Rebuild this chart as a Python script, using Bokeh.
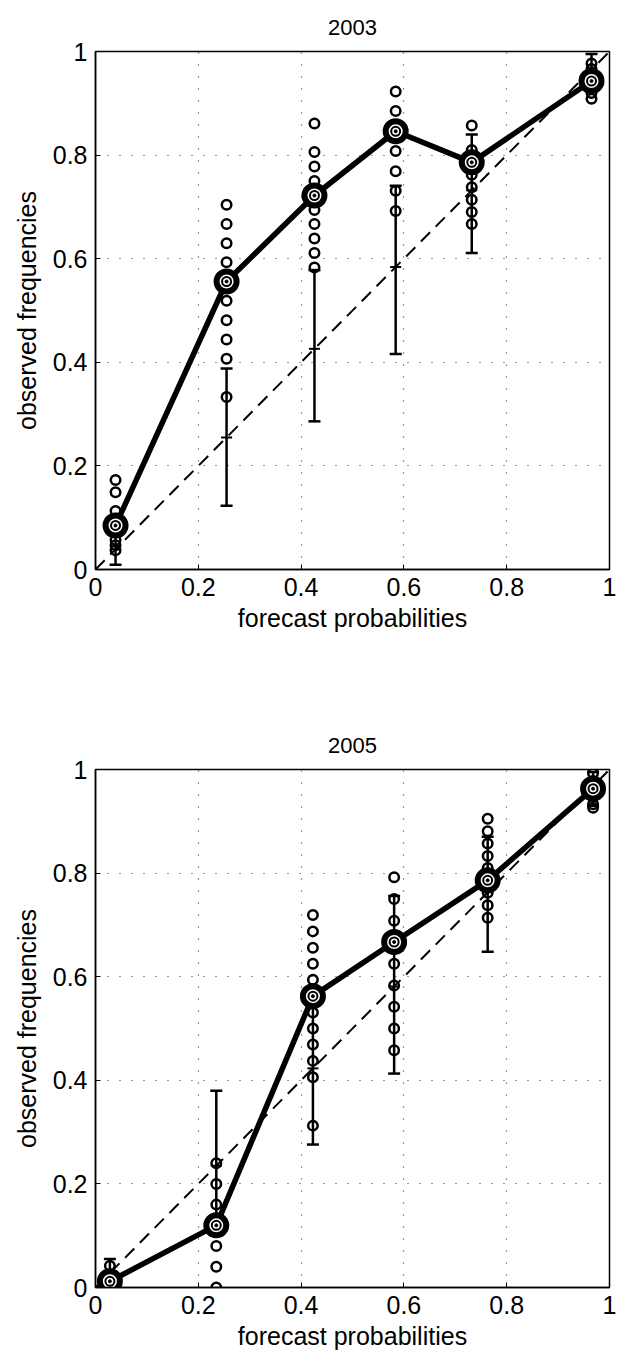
from bokeh.plotting import figure
from bokeh.layouts import column
from bokeh.models import FixedTicker, Range1d
from bokeh.embed import file_html
from bokeh.resources import INLINE

FONT = "Liberation Sans"

tick_values = [0, 0.2, 0.4, 0.6, 0.8, 1.0]
tick_labels = ["0", "0.2", "0.4", "0.6", "0.8", "1"]

# ---- 2003 ----
fp_2003 = [0.039, 0.255, 0.426, 0.584, 0.732, 0.965]
obs_2003 = [0.085, 0.556, 0.722, 0.846, 0.786, 0.943]
members_2003 = [
    [0.173, 0.149, 0.113, 0.098, 0.085, 0.072, 0.057, 0.047, 0.037],
    [0.704, 0.667, 0.630, 0.593, 0.556, 0.519, 0.481, 0.444, 0.407, 0.333],
    [0.861, 0.806, 0.778, 0.750, 0.722, 0.694, 0.667, 0.639, 0.611, 0.583],
    [0.923, 0.885, 0.846, 0.808, 0.769, 0.731, 0.692],
    [0.857, 0.810, 0.786, 0.762, 0.738, 0.714, 0.690, 0.667],
    [0.977, 0.966, 0.955, 0.943, 0.932, 0.920, 0.909],
]
lo_2003 = [0.009, 0.123, 0.286, 0.416, 0.611, 0.925]
hi_2003 = [0.080, 0.388, 0.578, 0.741, 0.840, 0.995]

# ---- 2005 ----
fp_2005 = [0.028, 0.235, 0.423, 0.581, 0.763, 0.968]
obs_2005 = [0.012, 0.120, 0.5625, 0.667, 0.786, 0.963]
members_2005 = [
    [0.042, 0.021, 0.010, 0.0],
    [0.24, 0.20, 0.16, 0.12, 0.08, 0.04, 0.0],
    [0.719, 0.6875, 0.656, 0.625, 0.594, 0.5625, 0.531, 0.5, 0.469, 0.4375, 0.406, 0.3125],
    [0.792, 0.750, 0.708, 0.667, 0.625, 0.583, 0.542, 0.500, 0.458],
    [0.905, 0.881, 0.857, 0.833, 0.810, 0.786, 0.762, 0.738, 0.714],
    [0.993, 0.978, 0.963, 0.948, 0.933, 0.926],
]
lo_2005 = [0.0, 0.100, 0.276, 0.413, 0.648, 0.930]
hi_2005 = [0.055, 0.380, 0.560, 0.756, 0.870, 0.995]


def reliability_panel(title, fp, obs, members, lo, hi, top, bottom):
    p = figure(
        frame_width=514, frame_height=518,
        min_border_left=95, min_border_right=8,
        min_border_top=top, min_border_bottom=bottom,
        x_range=Range1d(0, 1), y_range=Range1d(0, 1),
        output_backend="svg", toolbar_location=None,
        background_fill_color="white", border_fill_color="white",
    )
    p.title.text = title
    p.title.align = "center"
    p.title.text_font = FONT
    p.title.text_font_size = "22px"
    p.title.text_font_style = "normal"
    p.title.text_color = "black"
    p.title.standoff = 34

    p.outline_line_color = "black"
    p.outline_line_width = 1.5
    p.outline_line_alpha = 1

    for ax in (p.xaxis[0], p.yaxis[0]):
        ax.ticker = FixedTicker(ticks=tick_values)
        ax.major_label_overrides = dict(zip(tick_values, tick_labels))
        ax.major_label_text_font = FONT
        ax.major_label_text_font_size = "25px"
        ax.major_label_text_color = "black"
        ax.axis_label_text_font = FONT
        ax.axis_label_text_font_size = "25px"
        ax.axis_label_text_font_style = "normal"
        ax.axis_label_text_color = "black"
        ax.axis_line_color = "black"
        ax.axis_line_width = 1.5
        ax.major_tick_in = 5
        ax.major_tick_out = 0
        ax.major_tick_line_color = "black"
        ax.minor_tick_line_color = None
    p.xaxis.axis_label = "forecast probabilities"
    p.yaxis.axis_label = "observed frequencies"
    p.xaxis.major_label_standoff = 8
    p.xaxis.axis_label_standoff = 5
    p.yaxis.major_label_standoff = 8
    p.yaxis.axis_label_standoff = 9

    for g in (p.xgrid[0], p.ygrid[0]):
        g.ticker = FixedTicker(ticks=tick_values)
        g.grid_line_color = "#333333"
        g.grid_line_dash = "1 11"
        g.grid_line_width = 1.2

    # perfect reliability diagonal
    p.line([0, 1], [0, 1], line_color="black", line_width=2, line_dash="13 8")

    # consistency bars around the diagonal
    p.segment(x0=fp, y0=lo, x1=fp, y1=hi, line_color="black", line_width=2.5)
    p.scatter(fp, lo, marker="dash", size=12, line_color="black", line_width=2.5)
    p.scatter(fp, hi, marker="dash", size=12, line_color="black", line_width=2.5)
    p.scatter(fp, fp, marker="dash", size=11, line_color="black", line_width=2)

    # individual member frequencies
    xs, ys = [], []
    for x, vals in zip(fp, members):
        xs.extend([x] * len(vals))
        ys.extend(vals)
    p.scatter(xs, ys, marker="circle", size=9.5, fill_color=None,
              line_color="black", line_width=2.5)

    # pooled reliability curve
    p.line(fp, obs, line_color="black", line_width=5.5)
    p.scatter(fp, obs, marker="circle", size=20, fill_color="white",
              line_color="black", line_width=6)
    p.scatter(fp, obs, marker="circle", size=9, fill_color=None,
              line_color="black", line_width=2)
    p.scatter(fp, obs, marker="circle", size=3, fill_color="black",
              line_color="black", line_width=1)
    return p


p1 = reliability_panel("2003", fp_2003, obs_2003, members_2003, lo_2003, hi_2003, 50, 100)
p2 = reliability_panel("2005", fp_2005, obs_2005, members_2005, lo_2005, hi_2005, 100, 72)

layout = column(p1, p2, spacing=0)
open("out.html", "w").write(file_html(layout, INLINE))
